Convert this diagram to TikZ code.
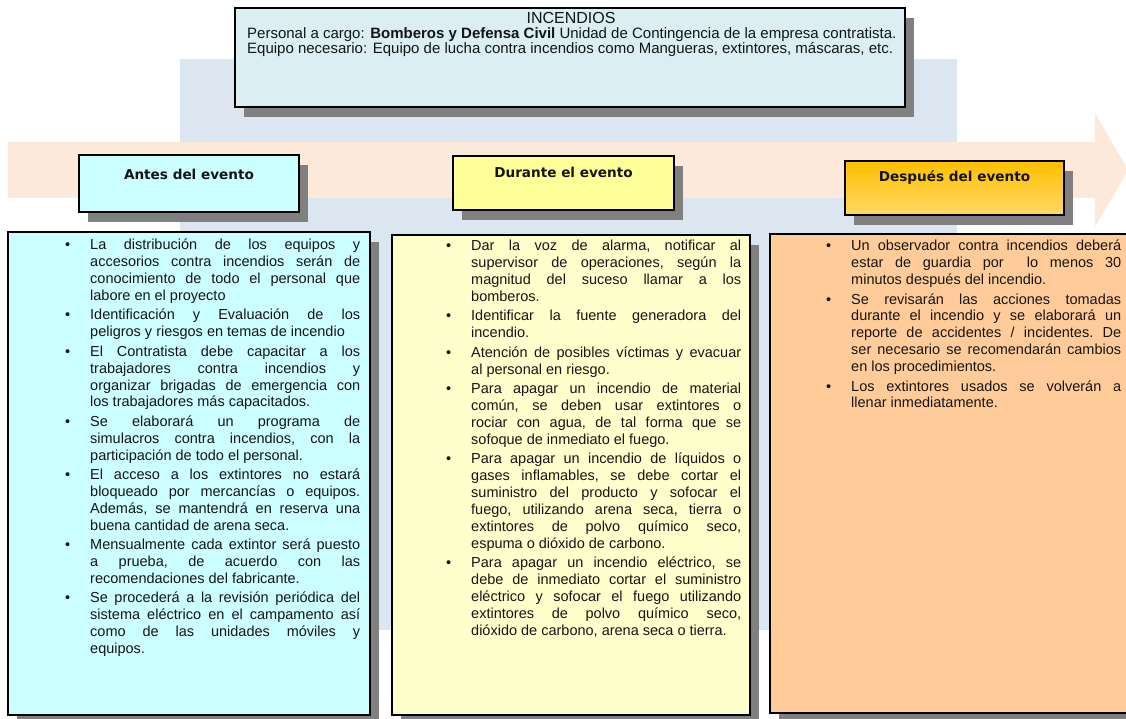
\documentclass[tikz,border=0pt]{standalone}
\usepackage{fontspec}
\setmainfont{Liberation Sans}
\newfontfamily\hdrfont{DejaVu Sans}
\usetikzlibrary{shadows}
\definecolor{bandblue}{HTML}{DCE6F1}
\definecolor{peach}{HTML}{FDE9D9}
\definecolor{topfill}{HTML}{DAEEF3}
\definecolor{cyanfill}{HTML}{CCFFFF}
\definecolor{yelhdr}{HTML}{FFFF99}
\definecolor{yelbody}{HTML}{FFFFCC}
\definecolor{orhdrtop}{HTML}{FFC000}
\definecolor{orhdrbot}{HTML}{FFD866}
\definecolor{orbody}{HTML}{FFCC99}
\definecolor{shadowgray}{HTML}{808080}
\definecolor{ink}{HTML}{151515}
% justified line, justified first line with bullet, natural last line, item gap
\newcommand\myjl[1]{\hbox to 270pt{#1}}
\newcommand\myjb[1]{\hbox to 270pt{\llap{\textbullet\hspace{20pt}}#1}}
\newcommand\mynl[1]{\hbox{#1}}
\newcommand\mygap{\vskip 2.5pt}
\newcommand\mycol[1]{\vbox{\hsize=270pt\parindent=0pt\spaceskip=0pt\xspaceskip=0pt\frenchspacing #1}}
\begin{document}
\begin{tikzpicture}[x=1pt,y=-1pt,
  box/.style={draw=black, line width=1.2pt, inner sep=0pt,
    drop shadow={shadow xshift=9pt, shadow yshift=-10pt, fill=shadowgray, opacity=1}},
  hdrtxt/.style={font=\hdrfont\bfseries\fontsize{13.6}{15}\selectfont, text=ink, inner sep=0pt},
  bodytxt/.style={font=\fontsize{14.5}{16.9}\selectfont, text=ink, inner sep=0pt, anchor=north west},
  toptxt/.style={font=\fontsize{15}{15}\selectfont, text=ink, inner sep=0pt}]
\useasboundingbox (0,0) rectangle (1126,719);
\clip (0,0) rectangle (1126,719);
\fill[white] (0,0) rectangle (1126,719);
% background band and arrow
\fill[bandblue] (180,59) rectangle (957,630);
\fill[peach] (8,142) -- (1095,142) -- (1095,113) -- (1128,170) -- (1095,227) -- (1095,198) -- (8,198) -- cycle;
% top box
\node[box, fill=topfill, minimum width=670pt, minimum height=99pt] (top) at (570,57.5) {};
\node[toptxt, font=\fontsize{16}{17}\selectfont] (title) at (571,18) {INCENDIOS};
\node[toptxt, anchor=north west, align=left, font=\fontsize{15}{15}\selectfont] (info) at (247,27) {Personal a cargo: \textbf{Bomberos y Defensa Civil} Unidad de Contingencia de la empresa contratista.\\
Equipo necesario: Equipo de lucha contra incendios como Mangueras, extintores, máscaras, etc.};
% headers
\node[box, fill=cyanfill, minimum width=220pt, minimum height=57pt] (antes) at (189,183.5) {};
\node[hdrtxt] (antest) at (189,174) {Antes del evento};
\node[box, fill=yelhdr, minimum width=221pt, minimum height=54pt] (durante) at (563.5,183) {};
\node[hdrtxt] (durantet) at (563.5,172) {Durante el evento};
\node[box, top color=orhdrtop, bottom color=orhdrbot, minimum width=219pt, minimum height=54pt] (despues) at (954.5,188) {};
\node[hdrtxt] (despuest) at (954.5,177) {Después del evento};
% content boxes
\node[box, fill=cyanfill, minimum width=362pt, minimum height=483pt] (antesc) at (189,473.5) {};
\node[box, fill=yelbody, minimum width=358pt, minimum height=480pt] (durantec) at (571,475) {};
\node[box, fill=orbody, minimum width=365pt, minimum height=479pt] (despuesc) at (952.5,473.5) {};
% texts
\node[bodytxt] (antesx) at (90,239) {\mycol{%
\myjb{La distribución de los equipos y}
\myjl{accesorios contra incendios serán de}
\myjl{conocimiento de todo el personal que}
\mynl{labore en el proyecto}\mygap
\myjb{Identificación y Evaluación de los}
\mynl{peligros y riesgos en temas de incendio}\mygap
\myjb{El Contratista debe capacitar a los}
\myjl{trabajadores contra incendios y}
\myjl{organizar brigadas de emergencia con}
\mynl{los trabajadores más capacitados.}\mygap
\myjb{Se elaborará un programa de}
\myjl{simulacros contra incendios, con la}
\mynl{participación de todo el personal.}\mygap
\myjb{El acceso a los extintores no estará}
\myjl{bloqueado por mercancías o equipos.}
\myjl{Además, se mantendrá en reserva una}
\mynl{buena cantidad de arena seca.}\mygap
\myjb{Mensualmente cada extintor será puesto}
\myjl{a prueba, de acuerdo con las}
\mynl{recomendaciones del fabricante.}\mygap
\myjb{Se procederá a la revisión periódica del}
\myjl{sistema eléctrico en el campamento así}
\myjl{como de las unidades móviles y}
\mynl{equipos.}}};
\node[bodytxt] (durantex) at (471,240) {\mycol{%
\myjb{Dar la voz de alarma, notificar al}
\myjl{supervisor de operaciones, según la}
\myjl{magnitud del suceso llamar a los}
\mynl{bomberos.}\mygap
\myjb{Identificar la fuente generadora del}
\mynl{incendio.}\mygap
\myjb{Atención de posibles víctimas y evacuar}
\mynl{al personal en riesgo.}\mygap
\myjb{Para apagar un incendio de material}
\myjl{común, se deben usar extintores o}
\myjl{rociar con agua, de tal forma que se}
\mynl{sofoque de inmediato el fuego.}\mygap
\myjb{Para apagar un incendio de líquidos o}
\myjl{gases inflamables, se debe cortar el}
\myjl{suministro del producto y sofocar el}
\myjl{fuego, utilizando arena seca, tierra o}
\myjl{extintores de polvo químico seco,}
\mynl{espuma o dióxido de carbono.}\mygap
\myjb{Para apagar un incendio eléctrico, se}
\myjl{debe de inmediato cortar el suministro}
\myjl{eléctrico y sofocar el fuego utilizando}
\myjl{extintores de polvo químico seco,}
\mynl{dióxido de carbono, arena seca o tierra.}}};
\node[bodytxt] (despuesx) at (851,240) {\mycol{%
\myjb{Un observador contra incendios deberá}
\myjl{estar de guardia por\ \ lo menos 30}
\mynl{minutos después del incendio.}\mygap
\myjb{Se revisarán las acciones tomadas}
\myjl{durante el incendio y se elaborará un}
\myjl{reporte de accidentes / incidentes. De}
\myjl{ser necesario se recomendarán cambios}
\mynl{en los procedimientos.}\mygap
\myjb{Los extintores usados se volverán a}
\mynl{llenar inmediatamente.}}};
\end{tikzpicture}
\end{document}
